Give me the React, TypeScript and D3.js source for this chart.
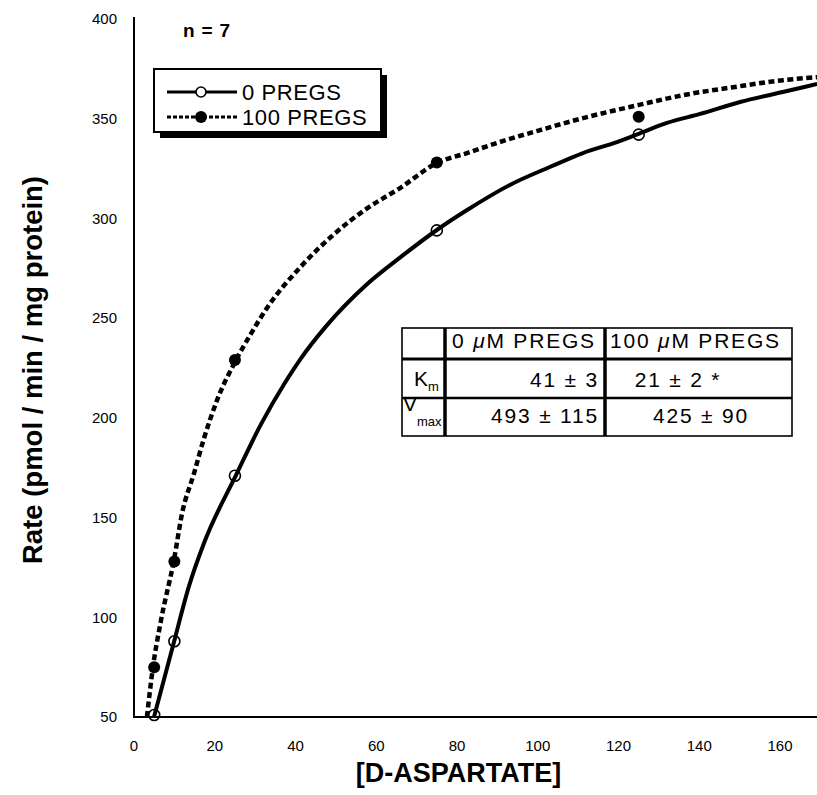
import React from "react";
import * as d3 from "d3";

// ---- data ----
const xTicks = [0, 20, 40, 60, 80, 100, 120, 140, 160];
const yTicks = [50, 100, 150, 200, 250, 300, 350, 400];
const xMaxData = 169.2;

// fitted curve for 0 PREGS (x = D-aspartate, y = rate)
const curve0X = [4.95, 9.9, 13.6, 17.3, 25.3, 31.5, 37.2, 41.4, 47.6, 57.7, 66.1, 75.0, 82.5, 93.1, 103.0, 111.2, 119.6, 124.8, 132.0, 140.2, 150.1, 160.7, 169.2];
const curve0Y = [50, 87.6, 115.5, 137.0, 171.4, 197.0, 217.0, 230.0, 246.0, 267.0, 280.7, 294.2, 304.2, 316.8, 325.8, 332.8, 338.3, 342.3, 347.9, 352.4, 358.4, 363.4, 367.4];

// fitted curve for 100 PREGS
const curve100X = [3.2, 4.7, 6.7, 9.9, 11.9, 14.9, 17.3, 20.6, 25.3, 29.2, 32.9, 41.4, 49.5, 57.7, 66.1, 75.0, 82.5, 90.6, 100.6, 111.2, 124.8, 136.0, 148.4, 160.7, 169.2];
const curve100Y = [50, 75.1, 98.6, 128.7, 152.0, 172.4, 189.5, 209.0, 229.1, 243.0, 255.0, 276.0, 292.0, 305.0, 315.5, 327.8, 332.8, 338.3, 344.3, 350.3, 356.8, 361.8, 365.8, 369.3, 370.8];

// measured points
const pointX = [5, 10, 25, 75, 125];
const points0 = [51, 88, 171, 294, 342];
const points100 = [75, 128, 229, 328, 351];

const legendLabels = ["0 PREGS", "100 PREGS"];
const tableHeaders = ["0 ", "100 "];
const kmValues = ["41 ± 3", "21 ± 2 *"];
const vmaxValues = ["493 ± 115", "425 ± 90"];

const W = 817;
const H = 795;

export default function App() {
  const x = d3.scaleLinear().domain([0, 160]).range([134, 780]);
  const y = d3.scaleLinear().domain([50, 400]).range([717, 19]);

  const line = d3
    .line<[number, number]>()
    .x((d) => x(d[0]))
    .y((d) => y(d[1]))
    .curve(d3.curveMonotoneX);

  const c0 = curve0X.map((v, i) => [v, curve0Y[i]] as [number, number]);
  const c100 = curve100X.map((v, i) => [v, curve100Y[i]] as [number, number]);

  const font = "'Liberation Sans', Arial, Helvetica, sans-serif";

  // table layout
  const colX = [402, 445, 605, 792];
  const rowY = [328, 359, 398, 436];
  const ls = 1.8;

  return (
    <svg
      width={W}
      height={H}
      style={{ position: "absolute", left: 0, top: 0, background: "#fff" }}
      fontFamily={font}
    >
      <rect x={0} y={0} width={W} height={H} fill="#fff" />

      {/* axes */}
      <line x1={x(0)} x2={x(0)} y1={y(400) - 2} y2={y(50)} stroke="#000" strokeWidth={2} />
      <line x1={x(0) - 1} x2={x(xMaxData)} y1={y(50)} y2={y(50)} stroke="#000" strokeWidth={2.2} />

      {yTicks.map((t) => (
        <text key={"y" + t} x={117} y={y(t)} dy="0.35em" textAnchor="end" fontSize={15}>
          {t}
        </text>
      ))}
      {xTicks.map((t) => (
        <text key={"x" + t} x={x(t)} y={751} textAnchor="middle" fontSize={15}>
          {t}
        </text>
      ))}

      <text
        transform={`translate(42,${(y(50) + y(400)) / 2 + 2}) rotate(-90)`}
        textAnchor="middle"
        fontSize={27.5}
        fontWeight="bold"
      >
        Rate (pmol / min / mg protein)
      </text>
      <text x={(x(0) + x(xMaxData)) / 2 - 17} y={782} textAnchor="middle" fontSize={27} fontWeight="bold">
        [D-ASPARTATE]
      </text>

      <text x={183} y={37} fontSize={19} fontWeight="bold" letterSpacing={0.8}>
        n = 7
      </text>

      {/* curves */}
      <path d={line(c100) || ""} fill="none" stroke="#000" strokeWidth={4.5} strokeDasharray="6 3.5" />
      <path d={line(c0) || ""} fill="none" stroke="#000" strokeWidth={4} />

      {pointX.map((px, i) => (
        <circle key={"f" + i} cx={x(px)} cy={y(points100[i])} r={6} fill="#000" />
      ))}
      {pointX.map((px, i) => (
        <circle key={"o" + i} cx={x(px)} cy={y(points0[i])} r={5.5} fill="none" stroke="#000" strokeWidth={1.6} />
      ))}

      {/* legend */}
      <rect x={160} y={75} width={227} height={63} fill="#000" />
      <rect x={154} y={69} width={227} height={63} fill="#fff" stroke="#000" strokeWidth={2} />
      <line x1={167} x2={237} y1={92} y2={92} stroke="#000" strokeWidth={3} />
      <circle cx={201} cy={92} r={5} fill="#fff" stroke="#000" strokeWidth={1.6} />
      <text x={242} y={100} fontSize={22} letterSpacing={0.6}>
        {legendLabels[0]}
      </text>
      <line x1={167} x2={237} y1={117} y2={117} stroke="#000" strokeWidth={3} strokeDasharray="4 2" />
      <circle cx={201} cy={117} r={6} fill="#000" />
      <text x={242} y={125} fontSize={22} letterSpacing={0.6}>
        {legendLabels[1]}
      </text>

      {/* table */}
      <rect
        x={colX[0]}
        y={rowY[0]}
        width={colX[3] - colX[0]}
        height={rowY[3] - rowY[0]}
        fill="#fff"
        stroke="#000"
        strokeWidth={1.6}
      />
      <line x1={colX[0]} x2={colX[3]} y1={rowY[1]} y2={rowY[1]} stroke="#000" strokeWidth={3} />
      <line x1={colX[0]} x2={colX[3]} y1={rowY[2]} y2={rowY[2]} stroke="#000" strokeWidth={2.5} />
      <line x1={colX[1]} x2={colX[1]} y1={rowY[0]} y2={rowY[3]} stroke="#000" strokeWidth={3.5} />
      <line x1={colX[2]} x2={colX[2]} y1={rowY[0]} y2={rowY[3]} stroke="#000" strokeWidth={3.5} />

      <text x={colX[1] + 7} y={348} fontSize={21} letterSpacing={ls}>
        {tableHeaders[0]}
        <tspan fontStyle="italic">μ</tspan>M PREGS
      </text>
      <text x={colX[2] + 5} y={348} fontSize={21} letterSpacing={ls}>
        {tableHeaders[1]}
        <tspan fontStyle="italic">μ</tspan>M PREGS
      </text>

      <text x={414} y={386} fontSize={21}>
        K
        <tspan fontSize={13} dy={5}>
          m
        </tspan>
      </text>
      <text x={403} y={411} fontSize={21}>
        V
        <tspan fontSize={13} dy={15}>
          max
        </tspan>
      </text>

      <text x={colX[2] - 6} y={387} textAnchor="end" fontSize={21} letterSpacing={ls}>
        {kmValues[0]}
      </text>
      <text x={678} y={387} textAnchor="middle" fontSize={21} letterSpacing={ls}>
        {kmValues[1]}
      </text>
      <text x={colX[2] - 6} y={423} textAnchor="end" fontSize={21} letterSpacing={ls}>
        {vmaxValues[0]}
      </text>
      <text x={701} y={423} textAnchor="middle" fontSize={21} letterSpacing={ls}>
        {vmaxValues[1]}
      </text>
    </svg>
  );
}
